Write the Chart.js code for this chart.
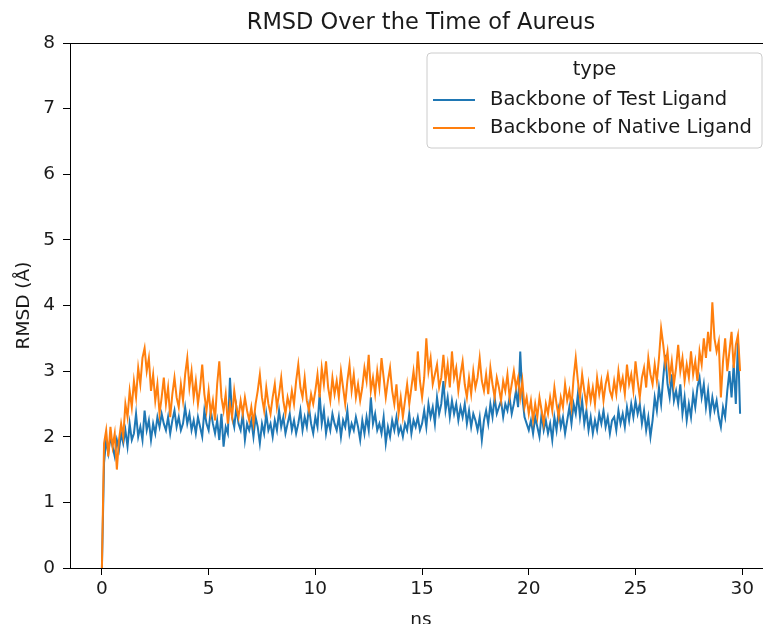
<!DOCTYPE html>
<html>
<head>
<meta charset="utf-8">
<script src="https://cdn.jsdelivr.net/npm/chart.js@4.4.1/dist/chart.umd.min.js"></script>
<style>
html,body{margin:0;padding:0;background:#fff;overflow:hidden;}
#wrap{width:775px;height:624px;position:relative;}
</style>
</head>
<body>
<div id="wrap"><canvas id="c" width="775" height="624"></canvas></div>
<script>
// ---- data (RMSD in Å, sampled every 0.1 ns) ----
const chartTitle = "RMSD Over the Time of Aureus";
const xLabel = "ns";
const yLabel = "RMSD (Å)";
const legendTitle = "type";
const seriesNames = ["Backbone of Test Ligand", "Backbone of Native Ligand"];
const xTicks = [0, 5, 10, 15, 20, 25, 30];
const yTicks = [0, 1, 2, 3, 4, 5, 6, 7, 8];

const testLigand = [
 0.0,1.6,1.95,1.75,2.0,1.85,1.7,1.95,1.8,2.05,
 1.9,2.1,1.85,2.2,1.95,2.05,2.35,2.0,2.15,1.95,
 2.4,2.1,2.25,1.95,2.2,2.05,2.3,2.15,2.35,2.2,
 2.1,2.3,2.05,2.25,2.4,2.15,2.3,2.1,2.2,2.45,
 2.2,2.35,2.1,2.25,2.05,2.3,2.15,2.0,2.4,2.2,
 2.1,2.4,2.2,2.05,2.25,1.95,2.35,1.85,2.15,2.05,
 2.9,2.3,2.15,2.45,2.2,2.1,2.35,1.95,2.2,2.1,
 2.25,2.0,2.3,2.15,1.9,2.2,2.05,2.35,2.1,2.2,
 2.0,2.25,2.1,2.4,2.15,2.3,2.05,2.2,2.35,2.1,
 2.25,2.05,2.2,2.4,2.1,2.3,2.15,2.45,2.2,2.05,
 2.3,2.15,2.65,2.2,2.4,2.05,2.25,2.1,2.35,2.2,
 2.1,2.3,2.0,2.25,2.15,2.4,2.05,2.2,2.1,2.3,
 2.15,1.95,2.25,2.05,2.3,2.1,2.6,2.2,2.35,2.1,
 2.2,2.05,2.3,1.9,2.15,2.0,2.25,2.1,2.3,2.05,
 2.15,2.0,2.2,2.1,2.35,2.05,2.25,2.15,2.3,2.1,
 2.2,2.4,2.15,2.5,2.3,2.45,2.2,2.6,2.35,2.5,
 2.85,2.4,2.6,2.3,2.55,2.35,2.5,2.25,2.45,2.3,
 2.5,2.2,2.4,2.15,2.35,2.25,2.1,2.3,1.95,2.25,
 2.4,2.2,2.5,2.3,2.6,2.35,2.45,2.55,2.3,2.5,
 2.4,2.6,2.35,2.5,2.7,2.45,3.3,2.6,2.3,2.2,
 2.1,2.25,2.05,2.3,2.15,2.0,2.35,2.1,2.25,2.05,
 2.2,1.95,2.3,2.1,2.4,2.15,2.3,2.05,2.25,2.45,
 2.2,2.5,2.35,2.65,2.3,2.55,2.2,2.4,2.1,2.3,
 2.05,2.25,2.1,2.35,2.2,2.4,2.15,2.3,2.05,2.25,
 2.3,2.1,2.4,2.2,2.35,2.15,2.45,2.25,2.5,2.3,
 2.55,2.35,2.5,2.2,2.4,2.1,2.3,2.0,2.25,2.6,
 2.4,2.75,2.5,2.9,3.25,2.8,2.6,2.95,2.55,2.7,
 2.5,2.8,2.35,2.6,2.25,2.5,2.3,2.65,2.45,2.75,
 2.9,2.6,2.8,2.45,2.7,2.35,2.6,2.4,2.55,2.3,
 2.15,2.45,2.3,2.7,3.0,2.6,3.1,2.5,3.45,2.35
];

const nativeLigand = [
 0.0,1.9,2.1,1.7,2.15,1.85,2.05,1.5,1.95,2.2,
 2.0,2.5,2.3,2.7,2.45,2.85,2.6,3.05,2.8,3.2,
 3.35,3.0,3.2,2.7,2.95,2.55,2.8,2.35,2.6,2.9,
 2.5,2.75,2.3,2.65,2.9,2.6,2.45,2.8,2.55,2.95,
 3.2,2.75,3.0,2.6,2.85,2.5,2.75,3.1,2.65,2.4,
 2.7,2.35,2.55,2.25,2.8,3.15,2.6,2.4,2.65,2.2,
 2.5,2.3,2.7,2.45,2.3,2.55,2.35,2.6,2.4,2.25,
 2.45,2.2,2.5,2.7,2.95,2.6,2.4,2.75,2.5,2.35,
 2.6,2.8,2.45,2.65,2.9,2.55,2.35,2.6,2.45,2.7,
 2.5,2.85,3.1,2.75,2.6,2.9,2.55,2.4,2.65,2.5,
 2.7,2.95,2.6,3.05,2.8,3.15,2.75,2.55,2.9,2.65,
 2.85,2.6,3.0,2.75,2.5,2.85,3.1,2.7,2.95,2.6,
 2.8,2.55,2.75,3.05,2.85,3.25,2.7,2.9,2.65,3.0,
 2.75,3.2,2.9,2.6,2.85,3.05,2.7,2.5,2.8,2.35,
 2.6,2.3,2.55,2.8,2.5,2.75,3.0,2.7,3.3,2.85,
 2.6,2.9,3.5,3.0,3.2,2.8,2.95,3.1,2.75,2.9,
 3.25,2.85,3.1,2.75,3.3,2.9,3.05,2.7,2.95,3.15,
 2.8,2.6,2.9,2.65,3.0,2.75,2.9,3.2,2.85,2.7,
 2.95,2.65,3.05,2.8,2.6,2.9,2.75,2.55,2.85,2.7,
 2.95,2.6,2.8,3.0,2.75,2.9,2.6,2.85,2.45,2.6,
 2.35,2.55,2.25,2.5,2.3,2.6,2.4,2.2,2.5,2.35,
 2.6,2.4,2.75,2.5,2.3,2.6,2.45,2.8,2.55,2.7,
 2.45,2.9,3.2,2.85,2.6,2.95,2.7,2.5,2.8,2.55,
 2.75,2.5,2.9,2.65,2.85,2.55,2.8,2.95,2.7,2.6,
 2.85,2.65,3.0,2.75,2.9,2.65,3.1,2.8,2.95,2.7,
 3.15,2.85,2.6,2.9,3.05,2.75,3.2,2.95,2.8,3.1,
 2.85,3.2,3.65,3.4,3.1,3.3,2.9,3.15,2.8,3.05,
 3.4,3.0,3.2,2.85,3.1,2.9,3.3,2.95,3.15,2.85,
 3.3,3.1,3.5,3.2,3.6,3.3,4.05,3.5,3.3,3.45,
 2.6,3.15,3.5,3.0,3.3,3.6,3.05,3.4,3.55,3.0
];

const timeNs = testLigand.map((_, i) => i / 10);

// ---- drawing ----
const C_BLUE = '#1f77b4', C_ORANGE = '#ff7f0e';
const TXT = '#1a1a1a';
const FONT = 'DejaVu Sans';
const AREA = {left: 70, right: 772, top: 43, bottom: 568};

const decor = {
  id: 'decor',
  afterDraw(chart) {
    const ctx = chart.ctx;
    const ca = chart.chartArea;
    ctx.save();
    // top & right spines
    ctx.strokeStyle = '#000';
    ctx.lineWidth = 1;
    ctx.beginPath();
    ctx.moveTo(ca.left, ca.top + 0.5);
    ctx.lineTo(ca.right, ca.top + 0.5);
    ctx.moveTo(ca.right - 0.5, ca.top);
    ctx.lineTo(ca.right - 0.5, ca.bottom);
    ctx.stroke();
    // title
    ctx.fillStyle = TXT;
    ctx.font = '22.5px "' + FONT + '"';
    ctx.textAlign = 'center';
    ctx.textBaseline = 'alphabetic';
    ctx.fillText(chartTitle, (ca.left + ca.right) / 2, 29);
    // x label
    ctx.font = '18.5px "' + FONT + '"';
    ctx.fillText(xLabel, (ca.left + ca.right) / 2, 625);
    // y label
    ctx.save();
    ctx.translate(29, (ca.top + ca.bottom) / 2);
    ctx.rotate(-Math.PI / 2);
    ctx.fillText(yLabel, 0, 0);
    ctx.restore();
    // legend
    const lx = 427, ly = 53, lw = 335, lh = 95, r = 4;
    ctx.beginPath();
    ctx.moveTo(lx + r, ly);
    ctx.arcTo(lx + lw, ly, lx + lw, ly + lh, r);
    ctx.arcTo(lx + lw, ly + lh, lx, ly + lh, r);
    ctx.arcTo(lx, ly + lh, lx, ly, r);
    ctx.arcTo(lx, ly, lx + lw, ly, r);
    ctx.closePath();
    ctx.fillStyle = 'rgba(255,255,255,0.8)';
    ctx.fill();
    ctx.strokeStyle = '#cccccc';
    ctx.stroke();
    ctx.fillStyle = TXT;
    ctx.font = '19.5px "' + FONT + '"';
    ctx.textAlign = 'center';
    ctx.textBaseline = 'middle';
    ctx.fillText(legendTitle, lx + lw / 2, 70);
    const colors = [C_BLUE, C_ORANGE];
    const rows = [100, 128];
    ctx.textAlign = 'left';
    seriesNames.forEach((n, i) => {
      ctx.strokeStyle = colors[i];
      ctx.lineWidth = 2;
      ctx.beginPath();
      ctx.moveTo(433, rows[i]);
      ctx.lineTo(475, rows[i]);
      ctx.stroke();
      ctx.fillStyle = TXT;
      ctx.fillText(n, 490, rows[i]);
    });
    ctx.restore();
  }
};

new Chart(document.getElementById('c'), {
  type: 'line',
  data: {
    labels: timeNs,
    datasets: [
      {label: seriesNames[0], data: timeNs.map((t, i) => ({x: t, y: testLigand[i]})), order: 2,
       borderColor: C_BLUE, borderWidth: 2, pointRadius: 0, tension: 0, fill: false},
      {label: seriesNames[1], data: timeNs.map((t, i) => ({x: t, y: nativeLigand[i]})), order: 1,
       borderColor: C_ORANGE, borderWidth: 2, pointRadius: 0, tension: 0, fill: false}
    ]
  },
  options: {
    responsive: false,
    animation: false,
    devicePixelRatio: 1,
    layout: {padding: {top: AREA.top, right: 775 - AREA.right, bottom: 0, left: 0}},
    plugins: {legend: {display: false}, tooltip: {enabled: false}, title: {display: false}},
    scales: {
      x: {
        type: 'linear', min: -1.495, max: 31.395,
        afterFit: s => { s.height = 624 - AREA.bottom; },
        afterBuildTicks: s => { s.ticks = xTicks.map(v => ({value: v})); },
        grid: {drawOnChartArea: false, drawTicks: true, tickLength: 7, tickColor: '#000', tickWidth: 1},
        border: {display: true, color: '#000', width: 1},
        ticks: {color: TXT, font: {family: FONT, size: 18.5}, padding: 3, maxRotation: 0, autoSkip: false}
      },
      y: {
        type: 'linear', min: 0, max: 8,
        afterFit: s => { s.width = AREA.left; },
        afterBuildTicks: s => { s.ticks = yTicks.map(v => ({value: v})); },
        grid: {drawOnChartArea: false, drawTicks: true, tickLength: 7, tickColor: '#000', tickWidth: 1},
        border: {display: true, color: '#000', width: 1},
        ticks: {color: TXT, font: {family: FONT, size: 18.5}, padding: 8}
      }
    }
  },
  plugins: [decor]
});
</script>
</body>
</html>
